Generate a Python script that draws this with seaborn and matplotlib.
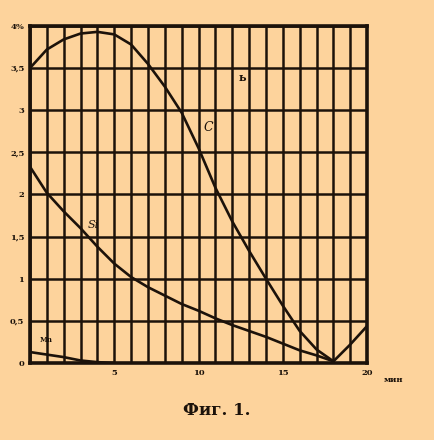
import pandas as pd
import matplotlib.pyplot as plt
import seaborn as sns

# --------------------------
# data (time in minutes, content in %)
# --------------------------
minutes = [0, 1, 2, 3, 4, 5, 6, 7, 8, 9, 10, 11, 12, 13, 14, 15, 16, 17, 18, 19, 20]
carbon = [3.5, 3.72, 3.84, 3.91, 3.93, 3.9, 3.78, 3.55, 3.28, 2.97, 2.55, 2.08, 1.68,
          1.33, 1.0, 0.68, 0.38, 0.16, 0.02, 0.22, 0.44]

si_minutes = [0, 1, 2, 3, 4, 5, 6, 7, 8, 9, 10, 11, 12, 13, 14, 15, 16, 17, 18]
silicon = [2.33, 2.02, 1.8, 1.6, 1.38, 1.18, 1.02, 0.9, 0.8, 0.7, 0.62, 0.53, 0.45,
           0.38, 0.31, 0.23, 0.15, 0.09, 0.02]

mn_minutes = [0, 1, 2, 3, 4, 5]
manganese = [0.13, 0.1, 0.07, 0.03, 0.01, 0.0]

x_ticks = [5, 10, 15, 20]
y_ticks = [0, 0.5, 1, 1.5, 2, 2.5, 3, 3.5, 4]
y_labels = ["0", "0,5", "1", "1,5", "2", "2,5", "3", "3,5", "4%"]

BG = "#fdd39c"
INK = "#1c120a"

sns.set_style("white")
plt.rcParams['font.family'] = ['DejaVu Serif', 'DejaVu Sans']

fig = plt.figure(figsize=(4.34, 4.40), dpi=100, facecolor=BG)
ax = fig.add_axes([0.069, 0.175, 0.777, 0.766])
ax.set_facecolor(BG)

# grid like the drawn paper: every minute, every 0.5 %
for xv in range(0, 21):
    ax.axvline(xv, color=INK, lw=1.8, zorder=1)
for yv in y_ticks:
    ax.axhline(yv, color=INK, lw=1.8, zorder=1)

df_c = pd.DataFrame({"t": minutes, "v": carbon})
df_si = pd.DataFrame({"t": si_minutes, "v": silicon})
df_mn = pd.DataFrame({"t": mn_minutes, "v": manganese})
for d in (df_c, df_si, df_mn):
    sns.lineplot(data=d, x="t", y="v", ax=ax, color=INK, lw=1.9, zorder=3)

ax.set_xlim(0, 20)
ax.set_ylim(0, 4)
ax.set_xlabel("")
ax.set_ylabel("")
ax.set_xticks(x_ticks)
ax.set_xticklabels([str(t) for t in x_ticks], fontsize=6, fontweight="bold", color=INK)
ax.set_yticks(y_ticks)
ax.set_yticklabels(y_labels, fontsize=6, fontweight="bold", color=INK)
ax.tick_params(length=0, pad=4)
for s in ax.spines.values():
    s.set_color(INK)
    s.set_linewidth(2.6)

# curve labels
ax.text(10.3, 2.75, "C", fontsize=9, fontstyle="italic", color=INK)
ax.text(12.4, 3.35, "ь", fontsize=8, fontweight="bold", color=INK)
ax.text(3.4, 1.6, "Si", fontsize=8, fontstyle="italic", color=INK)
ax.text(0.6, 0.25, "Mn", fontsize=5, fontweight="bold", color=INK)
ax.text(21.0, -0.16, "мин", fontsize=6, fontweight="bold", color=INK,
        ha="left", va="top")

fig.text(0.5, 0.068, "Фиг. 1.", ha="center", va="center", fontsize=12,
         fontweight="bold", color=INK)

fig.savefig("out.png", dpi=100, facecolor=BG)
